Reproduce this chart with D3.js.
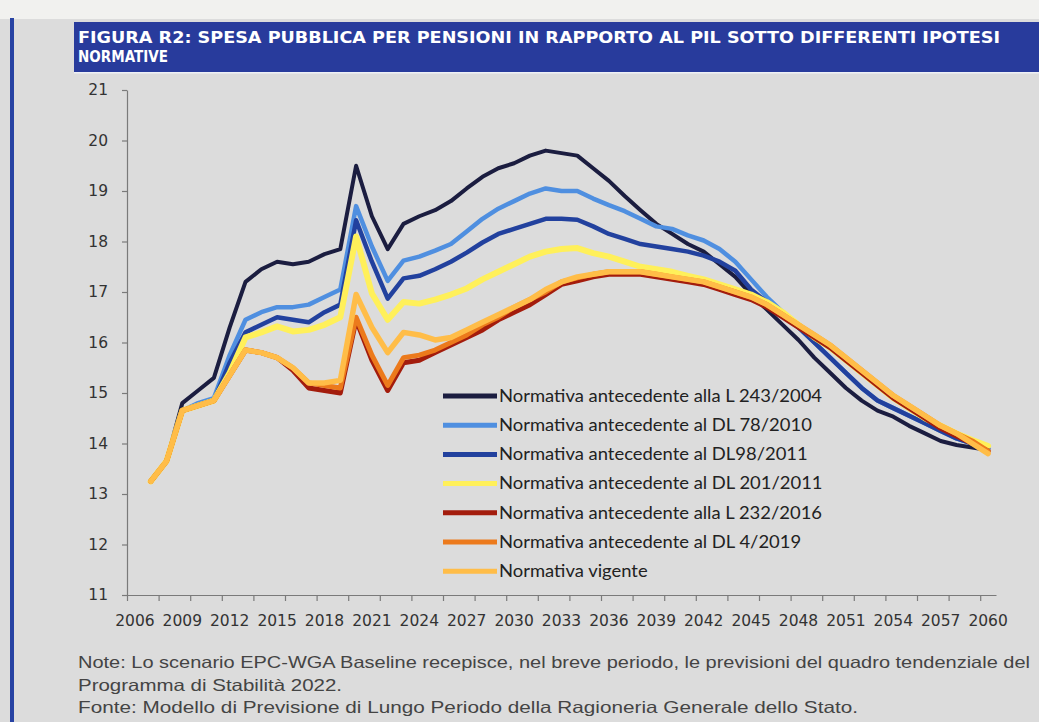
<!DOCTYPE html>
<html>
<head>
<meta charset="utf-8">
<script src="https://cdn.jsdelivr.net/npm/d3@7/dist/d3.min.js"></script>
<style>
  body { margin: 0; background: #dcdcdc; }
  svg { display: block; }
</style>
</head>
<body>
<div id="visualisation"></div>
<script>
// categories (x axis is a category axis, one slot per year)
var years = [2006, 2007, 2008, 2009, 2010, 2011, 2012, 2013, 2014, 2015,
    2016, 2017, 2018, 2019, 2020, 2021, 2022, 2023, 2024, 2025,
    2026, 2027, 2028, 2029, 2030, 2031, 2032, 2033, 2034, 2035,
    2036, 2037, 2038, 2039, 2040, 2041, 2042, 2043, 2044, 2045,
    2046, 2047, 2048, 2049, 2050, 2051, 2052, 2053, 2054, 2055,
    2056, 2057, 2058, 2059, 2060];
// series start in 2007
var firstDataYear = 2007;

var xLabelYears = [2006, 2009, 2012, 2015, 2018, 2021, 2024, 2027, 2030, 2033,
    2036, 2039, 2042, 2045, 2048, 2051, 2054, 2057, 2060];
var xTickYears = [2006, 2008, 2010, 2012, 2014, 2016, 2018, 2020, 2022, 2024,
    2026, 2028, 2030, 2032, 2034, 2036, 2038, 2040, 2042, 2044,
    2046, 2048, 2050, 2052, 2054, 2056, 2058, 2060];
var yTicks = [11, 12, 13, 14, 15, 16, 17, 18, 19, 20, 21];

var seriesNames = [
    'Normativa antecedente alla L 243/2004',
    'Normativa antecedente al DL 78/2010',
    'Normativa antecedente al DL98/2011',
    'Normativa antecedente al DL 201/2011',
    'Normativa antecedente alla L 232/2016',
    'Normativa antecedente al DL 4/2019',
    'Normativa vigente'
];

// values, % of GDP, 2007..2060
var l2432004 = [13.25, 13.65, 14.8, 15.05, 15.3, 16.3, 17.2, 17.45, 17.6, 17.55,
    17.6, 17.75, 17.85, 19.5, 18.5, 17.85, 18.35, 18.5, 18.62, 18.8,
    19.05, 19.28, 19.45, 19.55, 19.7, 19.8, 19.75, 19.7, 19.45, 19.2,
    18.9, 18.62, 18.35, 18.15, 17.95, 17.8, 17.55, 17.3, 16.95, 16.65,
    16.35, 16.05, 15.7, 15.4, 15.1, 14.85, 14.65, 14.53, 14.35, 14.2,
    14.05, 13.97, 13.92, 13.87];
var dl782010 = [13.25, 13.65, 14.65, 14.8, 14.9, 15.75, 16.45, 16.6, 16.7, 16.7,
    16.75, 16.9, 17.05, 18.7, 17.9, 17.22, 17.62, 17.7, 17.82, 17.95,
    18.2, 18.45, 18.65, 18.8, 18.95, 19.05, 19.0, 19.0, 18.85, 18.72,
    18.6, 18.45, 18.3, 18.25, 18.12, 18.02, 17.85, 17.6, 17.25, 16.9,
    16.6, 16.3, 16.0, 15.7, 15.4, 15.1, 14.85, 14.7, 14.55, 14.4,
    14.25, 14.1, 14.0, 13.9];
var dl982011 = [13.25, 13.65, 14.65, 14.75, 14.85, 15.6, 16.2, 16.35, 16.5, 16.45,
    16.4, 16.6, 16.75, 18.42, 17.6, 16.87, 17.27, 17.32, 17.45, 17.6,
    17.78, 17.98, 18.15, 18.25, 18.35, 18.45, 18.45, 18.43, 18.3, 18.15,
    18.05, 17.95, 17.9, 17.85, 17.8, 17.72, 17.6, 17.42, 17.05, 16.8,
    16.55, 16.3, 16.0, 15.7, 15.4, 15.1, 14.85, 14.7, 14.55, 14.4,
    14.25, 14.1, 14.0, 13.9];
var dl2012011 = [13.25, 13.65, 14.65, 14.75, 14.85, 15.4, 16.1, 16.2, 16.32, 16.22,
    16.25, 16.35, 16.5, 18.1, 16.97, 16.45, 16.8, 16.77, 16.85, 16.95,
    17.07, 17.25, 17.4, 17.55, 17.7, 17.8, 17.85, 17.87, 17.77, 17.7,
    17.6, 17.5, 17.45, 17.4, 17.32, 17.25, 17.15, 17.05, 16.95, 16.8,
    16.6, 16.35, 16.1, 15.9, 15.65, 15.4, 15.15, 14.9, 14.7, 14.5,
    14.35, 14.2, 14.07, 13.95];
var l2322016 = [13.25, 13.65, 14.65, 14.75, 14.85, 15.35, 15.85, 15.8, 15.7, 15.45,
    15.1, 15.05, 15.0, 16.45, 15.65, 15.05, 15.6, 15.65, 15.8, 15.95,
    16.1, 16.25, 16.45, 16.6, 16.75, 16.95, 17.15, 17.22, 17.3, 17.35,
    17.35, 17.35, 17.3, 17.25, 17.2, 17.15, 17.05, 16.95, 16.85, 16.7,
    16.5, 16.3, 16.1, 15.9, 15.65, 15.4, 15.15, 14.9, 14.7, 14.5,
    14.3, 14.15, 14.0, 13.85];
var dl42019 = [13.25, 13.65, 14.65, 14.75, 14.85, 15.35, 15.85, 15.8, 15.7, 15.5,
    15.2, 15.15, 15.1, 16.5, 15.75, 15.15, 15.7, 15.75, 15.85, 16.0,
    16.15, 16.35, 16.5, 16.7, 16.85, 17.0, 17.2, 17.28, 17.35, 17.4,
    17.4, 17.4, 17.35, 17.3, 17.25, 17.2, 17.1, 17.0, 16.9, 16.75,
    16.55, 16.35, 16.15, 15.95, 15.7, 15.45, 15.2, 14.95, 14.75, 14.55,
    14.35, 14.2, 14.05, 13.85];
var vigente = [13.25, 13.65, 14.65, 14.75, 14.85, 15.35, 15.85, 15.8, 15.7, 15.5,
    15.2, 15.2, 15.25, 16.95, 16.3, 15.8, 16.2, 16.15, 16.05, 16.1,
    16.25, 16.4, 16.55, 16.7, 16.85, 17.05, 17.2, 17.3, 17.35, 17.4,
    17.4, 17.4, 17.35, 17.3, 17.25, 17.2, 17.1, 17.0, 16.9, 16.75,
    16.55, 16.35, 16.15, 15.95, 15.7, 15.45, 15.2, 14.95, 14.75, 14.55,
    14.35, 14.2, 14.0, 13.8];

var seriesValues = [l2432004, dl782010, dl982011, dl2012011, l2322016, dl42019, vigente];
var seriesColors = ['#1b1d40', '#4f8fe0', '#22419e', '#fff05a', '#a31c0c', '#ec7a1c', '#ffbd48'];
var seriesWidths = [4, 4.5, 4.5, 6, 5, 5, 5.5];

var titleLines = [
    'FIGURA R2: SPESA PUBBLICA PER PENSIONI IN RAPPORTO AL PIL SOTTO DIFFERENTI IPOTESI',
    'NORMATIVE'
];
var noteLines = [
    'Note: Lo scenario EPC-WGA Baseline recepisce, nel breve periodo, le previsioni del quadro tendenziale del',
    'Programma di Stabilità 2022.',
    'Fonte: Modello di Previsione di Lungo Periodo della Ragioneria Generale dello Stato.'
];

var dims = {
    W: 1039, H: 722,
    plot: { left: 127, right: 996, top: 90, bottom: 595 },
    legend: { x: 443, lineLen: 54, y: 396, step: 29.2, firstTextLen: 323 }
};

function drawFrame(svg) {
    svg.append('rect').attr('width', dims.W).attr('height', dims.H).attr('fill', '#dcdcdc');
    svg.append('rect').attr('width', dims.W).attr('height', 19).attr('fill', '#f1f1ef');
    // left blue rule
    svg.append('rect').attr('x', 10).attr('y', 18).attr('width', 4).attr('height', dims.H - 18)
        .attr('fill', '#2843a3');
    // title bar
    svg.append('rect').attr('x', 74).attr('y', 22).attr('width', dims.W - 74).attr('height', 50)
        .attr('fill', '#283b9c');
    svg.append('rect').attr('x', 74).attr('y', 72).attr('width', dims.W - 74).attr('height', 1.5)
        .attr('fill', '#eef0f6');
    var widths = [922, 90];
    titleLines.forEach(function(t, i) {
        svg.append('text')
            .attr('x', 78).attr('y', 43 + i * 19)
            .attr('fill', '#ffffff')
            .attr('font-family', '"DejaVu Sans", sans-serif')
            .attr('font-weight', 'bold')
            .attr('font-size', 16)
            .attr('textLength', widths[i])
            .attr('lengthAdjust', 'spacingAndGlyphs')
            .text(t);
    });
    // notes
    var noteWidths = [952, 264, 780];
    noteLines.forEach(function(t, i) {
        svg.append('text')
            .attr('x', 78).attr('y', 668 + i * 22.5)
            .attr('fill', '#444')
            .attr('font-family', '"Liberation Sans Narrow", "Liberation Sans", sans-serif')
            .attr('font-size', 16.5)
            .attr('textLength', noteWidths[i])
            .attr('lengthAdjust', 'spacingAndGlyphs')
            .text(t);
    });
}

function drawChart(svg) {
    var x = d3.scaleBand().domain(years).range([dims.plot.left, dims.plot.right]).padding(0);
    var xEdge = d3.scaleLinear().domain([years[0], years[years.length - 1] + 1])
        .range([dims.plot.left, dims.plot.right]);
    var y = d3.scaleLinear().domain([11, 21]).range([dims.plot.bottom, dims.plot.top]);

    // y axis
    var gy = svg.append('g')
        .attr('transform', 'translate(' + dims.plot.left + ',0)')
        .call(d3.axisLeft(y).tickValues(yTicks).tickSize(5).tickSizeOuter(0).tickPadding(14));
    // x axis: tick marks on category edges, labels on category centres
    var gxt = svg.append('g')
        .attr('transform', 'translate(0,' + dims.plot.bottom + ')')
        .call(d3.axisBottom(xEdge).tickValues(xTickYears).tickSize(6).tickSizeOuter(0).tickFormat(''));
    var gxl = svg.append('g')
        .attr('transform', 'translate(0,' + dims.plot.bottom + ')')
        .call(d3.axisBottom(x).tickValues(xLabelYears).tickSize(0).tickPadding(20));
    gxl.select('.domain').remove();

    [gy, gxt, gxl].forEach(function(g) {
        g.selectAll('.domain, line').attr('stroke', '#7a7a7a').attr('stroke-width', 1.2);
        g.selectAll('text')
            .attr('fill', '#333')
            .attr('font-family', '"DejaVu Sans", Verdana, sans-serif')
            .attr('font-size', 15.5);
    });

    var line = d3.line()
        .x(function(d) { return x(d.year) + x.bandwidth() / 2; })
        .y(function(d) { return y(d.v); });

    seriesValues.forEach(function(vals, i) {
        var pts = vals.map(function(v, j) { return { year: firstDataYear + j, v: v }; });
        svg.append('path')
            .datum(pts)
            .attr('fill', 'none')
            .attr('stroke', seriesColors[i])
            .attr('stroke-width', seriesWidths[i])
            .attr('stroke-linejoin', 'round')
            .attr('stroke-linecap', 'round')
            .attr('d', line);
    });

    // legend
    var lg = svg.append('g');
    var labels = [];
    seriesNames.forEach(function(name, i) {
        var yy = dims.legend.y + i * dims.legend.step;
        lg.append('line')
            .attr('x1', dims.legend.x).attr('x2', dims.legend.x + dims.legend.lineLen)
            .attr('y1', yy).attr('y2', yy)
            .attr('stroke', seriesColors[i])
            .attr('stroke-width', 5);
        labels.push(lg.append('text')
            .attr('x', dims.legend.x + dims.legend.lineLen + 2)
            .attr('y', yy)
            .attr('dy', '0.35em')
            .attr('fill', '#222')
            .attr('font-family', 'Lato, "Open Sans", sans-serif')
            .attr('font-size', 16.5)
            .text(name));
    });
    // stretch all legend labels by the same factor so the first one spans like the original
    var k = dims.legend.firstTextLen / labels[0].node().getComputedTextLength();
    labels.forEach(function(t) {
        t.attr('textLength', t.node().getComputedTextLength() * k)
            .attr('lengthAdjust', 'spacingAndGlyphs');
    });
    console.log('>> Chart Created');
}

var svg = d3.select('#visualisation').append('svg')
    .attr('width', dims.W)
    .attr('height', dims.H);
drawFrame(svg);
drawChart(svg);
</script>
</body>
</html>
